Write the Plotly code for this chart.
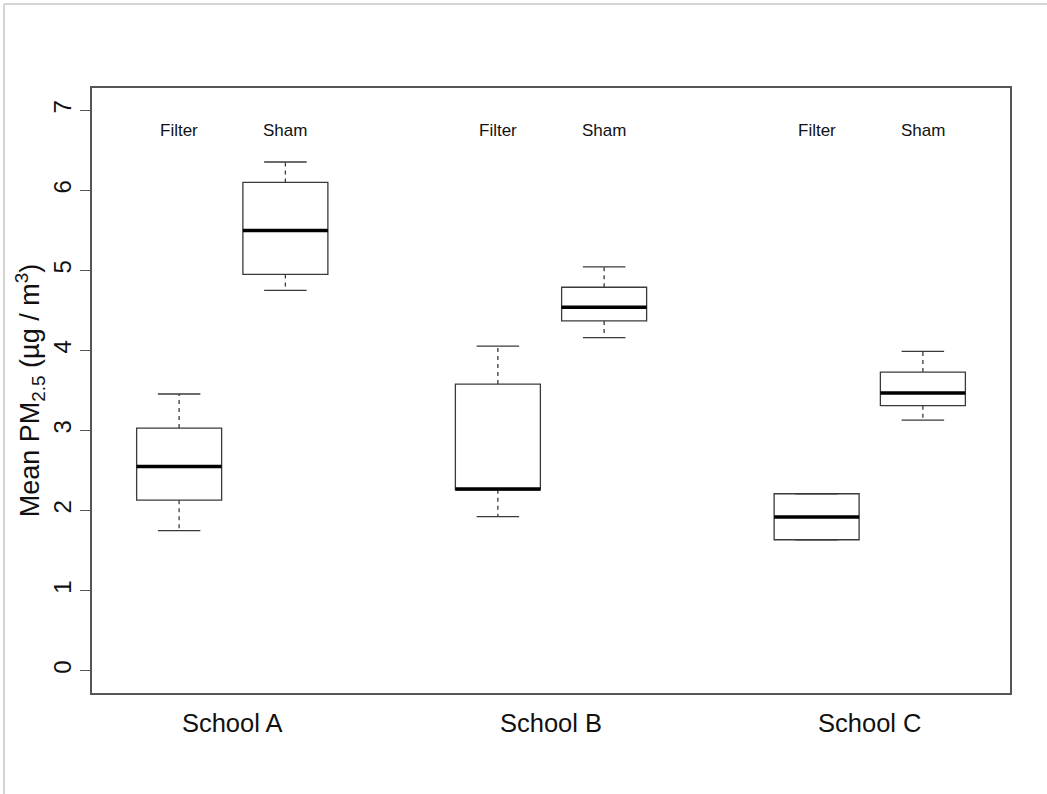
import plotly.graph_objects as go

# ---- data ----
schools = ["School A", "School B", "School C"]
groups = ["Filter", "Sham"]
positions = [1, 2, 4, 5, 7, 8]
box_groups = ["Filter", "Sham", "Filter", "Sham", "Filter", "Sham"]
lower_whisker = [1.75, 4.75, 1.925, 4.16, 1.635, 3.13]
q1 = [2.13, 4.95, 2.26, 4.37, 1.635, 3.31]
median = [2.55, 5.50, 2.27, 4.54, 1.92, 3.47]
q3 = [3.03, 6.10, 3.58, 4.79, 2.21, 3.73]
upper_whisker = [3.456, 6.355, 4.055, 5.045, 2.21, 3.99]
school_ticks = [1.5, 4.5, 7.5]
y_ticks = [0, 1, 2, 3, 4, 5, 6, 7]

# ---- style constants ----
BOX_W = 0.8
CAP_W = 0.4
LABEL_Y = 6.75
LINE_C = "#3a3a3a"
FONT = "Liberation Sans, Arial, Helvetica, sans-serif"

fig = go.Figure()

# box bodies (quartiles), whiskers drawn separately to allow dashed style
fig.add_trace(go.Box(
    x=positions, q1=q1, median=median, q3=q3,
    lowerfence=q1, upperfence=q3,
    width=BOX_W, whiskerwidth=0,
    fillcolor="white", line=dict(color=LINE_C, width=1.3),
    boxpoints=False, showlegend=False, hoverinfo="skip",
))

def seg(xs0, xs1, ys0, ys1):
    X, Y = [], []
    for a, b, c, d in zip(xs0, xs1, ys0, ys1):
        X += [a, b, None]
        Y += [c, d, None]
    return X, Y

# dashed whiskers
wx, wy = seg(positions, positions, q3, upper_whisker)
wx2, wy2 = seg(positions, positions, q1, lower_whisker)
fig.add_trace(go.Scatter(x=wx + wx2, y=wy + wy2, mode="lines",
                         line=dict(color=LINE_C, width=1.3, dash="4px,4px"),
                         showlegend=False, hoverinfo="skip"))

# caps
cx, cy = seg([p - CAP_W / 2 for p in positions], [p + CAP_W / 2 for p in positions],
             upper_whisker, upper_whisker)
cx2, cy2 = seg([p - CAP_W / 2 for p in positions], [p + CAP_W / 2 for p in positions],
               lower_whisker, lower_whisker)
fig.add_trace(go.Scatter(x=cx + cx2, y=cy + cy2, mode="lines",
                         line=dict(color=LINE_C, width=1.3),
                         showlegend=False, hoverinfo="skip"))

# thick medians
mx, my = seg([p - BOX_W / 2 for p in positions], [p + BOX_W / 2 for p in positions],
             median, median)
fig.add_trace(go.Scatter(x=mx, y=my, mode="lines",
                         line=dict(color="black", width=3.5),
                         showlegend=False, hoverinfo="skip"))

# group labels
for p, g in zip(positions, box_groups):
    fig.add_annotation(x=p, y=LABEL_Y, text=g, showarrow=False,
                       font=dict(family=FONT, size=17, color="#111"))

fig.update_layout(
    width=1047, height=794,
    margin=dict(l=92, r=37, t=88, b=101),
    paper_bgcolor="white", plot_bgcolor="white",
    font=dict(family=FONT, color="#111"),
)
fig.update_xaxes(
    range=[0.18, 8.82], tickvals=school_ticks, ticktext=schools,
    ticks="", showgrid=False, zeroline=False,
    showline=True, mirror=True, linecolor="#555", linewidth=1.5,
    tickfont=dict(size=25.5, family=FONT, color="#111"),
    ticklabelstandoff=7,
)
fig.update_yaxes(
    range=[-0.28, 7.28], tickvals=y_ticks, ticktext=[str(v) for v in y_ticks],
    ticks="outside", ticklen=10, tickcolor="#555", tickwidth=1.2,
    tickangle=-90, showgrid=False, zeroline=False,
    showline=True, mirror=True, linecolor="#555", linewidth=1.5,
    tickfont=dict(size=24, family=FONT, color="#111"),
    title=dict(text="Mean PM<sub>2.5</sub> (µg / m<sup>3</sup>)",
               font=dict(size=27, family=FONT, color="#111"), standoff=0),
)

# light outer border of the original image
fig.add_shape(type="line", xref="paper", yref="paper",
              x0=-0.0959, x1=1.05, y0=1.1388, y1=1.1388,
              line=dict(color="#d4d4d4", width=2))
fig.add_shape(type="line", xref="paper", yref="paper",
              x0=-0.0959, x1=-0.0959, y0=-0.17, y1=1.1388,
              line=dict(color="#d4d4d4", width=2))

fig.write_html("out.html", config={"displayModeBar": False},
               post_script="document.body.style.margin='0px';")
